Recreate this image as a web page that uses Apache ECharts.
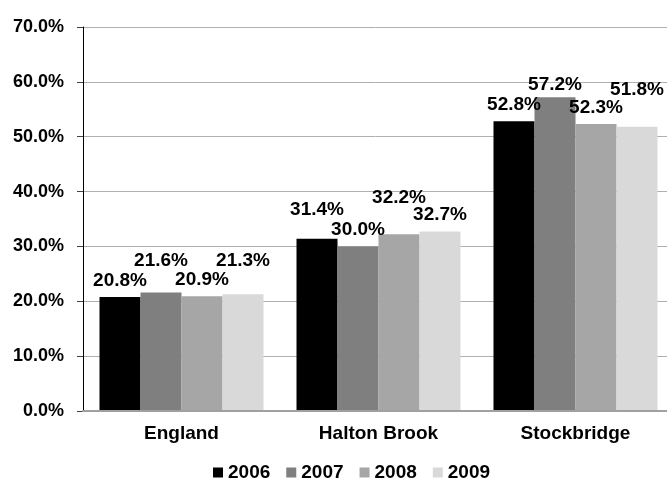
<!DOCTYPE html>
<html>
<head>
<meta charset="utf-8">
<script src="https://cdn.jsdelivr.net/npm/echarts@6/dist/echarts.min.js"></script>
<style>
  html, body { margin: 0; padding: 0; background: #fff; }
</style>
</head>
<body>
<div id="chart" style="width: 667px; height: 480px;"></div>
<script>
// categories and years
const areas = ['England', 'Halton Brook', 'Stockbridge'];
const years = ['2006', '2007', '2008', '2009'];

// values in %, one array per year
const v2006 = [20.8, 31.4, 52.8];
const v2007 = [21.6, 30.0, 57.2];
const v2008 = [20.9, 32.2, 52.3];
const v2009 = [21.3, 32.7, 51.8];

const yTicks = [0, 10, 20, 30, 40, 50, 60, 70];

// label lifts (px) so overlapping labels are staggered like the original
const lift2006 = [0, -12, 0];
const lift2007 = [-15, 0, 4];
const lift2008 = [0, -20, 0];
const lift2009 = [-17, 0, -21];

const colors = ['#000000', '#7f7f7f', '#a6a6a6', '#d9d9d9'];
const font = 'Liberation Sans, Arial, sans-serif';

const chart = echarts.init(document.getElementById('chart'));

const makeSeries = (name, values, lifts, color) => ({
  type: 'bar',
  name: name,
  color: color,
  barGap: '0%',
  barCategoryGap: '16.75%',
  data: values.map((v, i) => ({
    value: v,
    label: { offset: [0, lifts[i]] }
  })),
  label: {
    show: true,
    position: 'top',
    distance: 7,
    color: '#000',
    fontFamily: font,
    fontWeight: 'bold',
    fontSize: 19,
    formatter: (p) => p.value.toFixed(1) + '%'
  }
});

const option = {
  animation: false,
  // plot runs slightly past the right edge, as in the original
  grid: { left: 83, top: 27, width: 591, height: 384, outerBoundsMode: 'none' },
  legend: {
    data: years,
    left: 208,
    top: 458,
    itemWidth: 10,
    itemHeight: 10,
    itemGap: 16,
    icon: 'rect',
    textStyle: { fontFamily: font, fontWeight: 'bold', fontSize: 19, color: '#000' }
  },
  xAxis: {
    type: 'category',
    data: areas,
    z: 3,
    axisLine: { lineStyle: { color: '#a0a0a0', width: 2 } },
    axisTick: { show: false },
    axisLabel: { margin: 13, color: '#000', fontFamily: font, fontWeight: 'bold', fontSize: 19 }
  },
  yAxis: {
    type: 'value',
    min: yTicks[0],
    max: yTicks[yTicks.length - 1],
    interval: 10,
    axisLine: { show: true, lineStyle: { color: '#000', width: 1 } },
    axisTick: { show: true, length: 6, lineStyle: { color: '#444' } },
    splitLine: { lineStyle: { color: '#b0b0b0', width: 1 } },
    axisLabel: {
      margin: 19,
      color: '#000',
      fontFamily: font,
      fontWeight: 'bold',
      fontSize: 18,
      formatter: (v) => v.toFixed(1) + '%'
    }
  },
  series: [
    makeSeries(years[0], v2006, lift2006, colors[0]),
    makeSeries(years[1], v2007, lift2007, colors[1]),
    makeSeries(years[2], v2008, lift2008, colors[2]),
    makeSeries(years[3], v2009, lift2009, colors[3])
  ]
};

chart.setOption(option);
</script>
</body>
</html>
